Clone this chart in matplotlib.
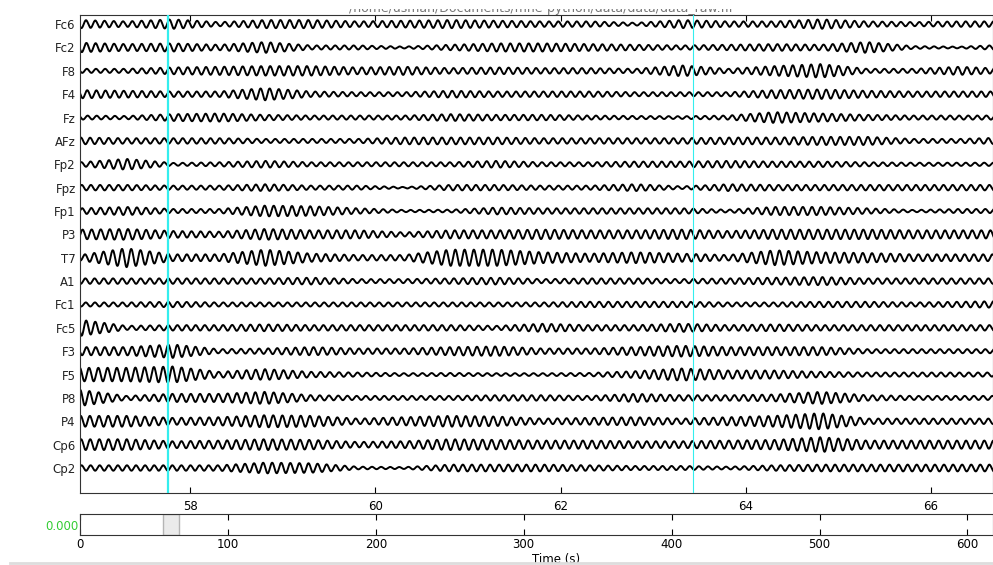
import numpy as np
import matplotlib
matplotlib.use("Agg")
import matplotlib.pyplot as plt
from matplotlib.patches import Rectangle
from matplotlib.transforms import Bbox, TransformedBbox

# channel names, top to bottom
channels = ["Fc6", "Fc2", "F8", "F4", "Fz", "AFz", "Fp2", "Fpz", "Fp1", "P3",
            "T7", "A1", "Fc1", "Fc5", "F3", "F5", "P8", "P4", "Cp6", "Cp2"]

# alpha envelope (half peak-to-peak, in screen px) read every 0.5 s from 56.81 s
env_times = [56.81 + 0.5 * k for k in range(21)]
env_Fc6 = [3, 2, 3.5, 1.5, 3, 3, 2, 2.5, 3, 2.5, 2, 2, 1, 3, 2, 2, 3.5, 2, 1.5, 2, 2]
env_Fc2 = [3.5, 2.5, 3, 2, 4, 1.5, 1.5, 0.7, 2, 3, 3, 2.5, 2, 1.5, 2, 2.5, 2, 4, 1, 0.6, 2]
env_F8 = [1.5, 1.5, 2.5, 3, 3.5, 3.5, 2.5, 3, 2, 2.5, 2, 2, 1.5, 4, 1.5, 3.5, 5, 1.5, 1.5, 3, 1.5]
env_F4 = [3, 2.5, 2, 2, 4.5, 2, 1.5, 1.5, 2.5, 2, 2, 2, 1.5, 1.5, 1.5, 3, 3.5, 2.5, 2, 2, 2]
env_Fz = [1.5, 1.2, 2.5, 3, 2, 1.5, 1.5, 1.5, 2.5, 2, 2, 1.5, 1.2, 1, 1.5, 4, 3, 2, 1.5, 1.5, 1.5]
env_AFz = [2.5, 2, 2, 2, 1.5, 1.5, 1.5, 2.5, 2.5, 2.5, 2, 2, 2, 2, 2.5, 2.5, 3, 3, 1.5, 1.5, 2.5]
env_Fp2 = [1.5, 4, 1, 1.5, 2.5, 1.5, 1.5, 1.5, 1.5, 2.5, 1.5, 1.5, 2, 2, 2.5, 2, 2, 1.5, 1.2, 1.2, 1.2]
env_Fpz = [2, 2, 1.5, 1.5, 2.5, 1.5, 1.5, 0.5, 2, 2, 1.5, 1.5, 2.5, 1, 2.5, 2, 2, 2, 2, 2, 2]
env_Fp1 = [2, 3, 1.5, 1.5, 4, 3.5, 2, 0.8, 1, 2.5, 2, 2, 2, 2, 1, 3, 3, 2, 0.8, 1.5, 1.5]
env_P3 = [3.5, 4, 2.5, 2, 4, 3, 3, 1.5, 3, 3, 3.5, 3, 3, 3.5, 2.5, 3.5, 3.5, 3.5, 3, 3, 3]
env_T7 = [2, 7, 2.5, 2.5, 6, 3, 2, 2, 6, 6, 4, 3, 4, 3, 2, 5.5, 4, 3.5, 2.5, 2.5, 2.5]
env_A1 = [2, 2, 2, 2, 2, 2.5, 1.5, 1.5, 2, 2.5, 1.5, 2, 2, 1.5, 2, 2.5, 3, 2, 2, 2, 2]
env_Fc1 = [1.5, 1.5, 2, 1.5, 1.5, 1.5, 1.5, 1.5, 1.5, 1.5, 1.5, 2, 2, 2, 1.5, 1.5, 2, 2, 1.5, 2, 2.5]
env_Fc5 = [6, 1.5, 2, 2, 2.5, 2, 2, 2, 2, 1.5, 3, 2, 2, 3, 2, 2.5, 2, 2, 2, 2, 2]
env_F3 = [3, 3, 5, 1.5, 2, 3, 2, 2, 3, 3.5, 2, 2, 3, 4, 3, 3, 3, 1.5, 1.5, 1.5, 1.5]
env_F5 = [5, 5, 6, 2, 4, 2, 1.5, 1, 1.2, 1, 1, 1.2, 2.5, 4.5, 3, 3, 2, 1.5, 1.5, 1.5, 1.5]
env_P8 = [6, 1.5, 3, 3, 4.5, 2, 1.5, 1.5, 1.5, 2, 2, 1.5, 3, 2, 2, 2.5, 4.5, 2, 1.5, 1.5, 1.5]
env_P4 = [4, 4, 2.5, 3, 4.5, 4, 2, 3, 4, 3.5, 2, 2.5, 3, 2, 3, 4, 6, 2, 2, 2, 2]
env_Cp6 = [4, 4, 2.5, 3, 4, 3.5, 2, 2.5, 4, 3.5, 3, 3, 2.5, 2.5, 3, 3.5, 5.5, 3, 3, 3, 3]
env_Cp2 = [2, 2, 2, 2, 4, 3.5, 1, 0.7, 2.5, 2.5, 2.5, 2, 1.5, 1.5, 1, 2, 2.5, 2.5, 2.5, 2.5, 2.5]

envelopes = [env_Fc6, env_Fc2, env_F8, env_F4, env_Fz, env_AFz, env_Fp2, env_Fpz,
             env_Fp1, env_P3, env_T7, env_A1, env_Fc1, env_Fc5, env_F3, env_F5,
             env_P8, env_P4, env_Cp6, env_Cp2]

event_times = [57.76, 63.43]
t_start, t_view = 56.81, 9.86
total_time = 617.3
xticks_main = [58, 60, 62, 64, 66]
xticks_scroll = [0, 100, 200, 300, 400, 500, 600]

sfreq = 250.0
alpha_hz = 10.0
px_per_chan = 23.37
gain = 1.35

fig = plt.figure(figsize=(9.93, 5.65), dpi=100)
ax = fig.add_axes([80 / 993, 1 - 493 / 565, 913 / 993, 478 / 565])

times = np.arange(t_start, t_start + t_view + 0.1, 1 / sfreq)
for i, (name, env) in enumerate(zip(channels, envelopes)):
    amp = gain * np.interp(times, env_times, env) / px_per_chan
    phase = 0.7 * i
    wave = np.sin(2 * np.pi * (alpha_hz + 0.05 * (i % 5)) * times + phase)
    ax.plot(times, i + amp * wave, color="black", lw=1.4)

ax.axvline(event_times[0], color="#33eeee", lw=1.6, zorder=3)
ax.axvline(event_times[1], color="#33eeee", lw=0.8, zorder=3)

ax.set_xlim(t_start, t_start + t_view)
ax.set_ylim(len(channels) - 1 + 1.07, -0.39)
ax.set_yticks(range(len(channels)))
ax.set_yticklabels(channels, fontsize=8.5, color="#222222")
ax.tick_params(axis="y", length=0, pad=3)
ax.set_xticks(xticks_main)
ax.tick_params(axis="x", direction="in", top=True, length=4, labelsize=8.5, pad=5)
for s in ax.spines.values():
    s.set_color("#333333")

# scroll bar
sax = fig.add_axes([80 / 993, 1 - 535 / 565, 913 / 993, 21 / 565])
sax.set_xlim(0, total_time)
sax.set_ylim(0, 1)
sax.add_patch(Rectangle((t_start - 0.5, 0), t_view + 0.7, 1, facecolor="#ebebeb",
                        edgecolor="#b5b5b5", lw=1))
sax.set_xticks(xticks_scroll)
sax.tick_params(axis="x", direction="in", top=True, length=4, labelsize=8.5, pad=2)
sax.set_yticks([0.5])
sax.set_yticklabels(["0.000"], color="#33cc33", fontsize=8.5)
sax.tick_params(axis="y", length=0, pad=1)
sax.set_xlabel("Time (s)", fontsize=8.5, labelpad=0)
sax.xaxis.set_label_coords(0.521, -0.88)
for s in sax.spines.values():
    s.set_color("#333333")

# file-name title, its upper part hidden as in the screenshot
title = fig.text(541 / 993, 1 - 12 / 565,
                 "/home/usman/Documents/mne-python/data/data/data_raw.fif",
                 ha="center", va="baseline", fontsize=9, color="#777777")
title.set_clip_box(TransformedBbox(Bbox([[0, 0], [1, 1 - 9 / 565]]), fig.transFigure))
title.set_clip_on(True)
fig.add_artist(plt.Line2D([10 / 993, 1], [1 - 563 / 565] * 2, transform=fig.transFigure,
                          color="#dddddd", lw=2))

fig.savefig("out.png", dpi=100)
